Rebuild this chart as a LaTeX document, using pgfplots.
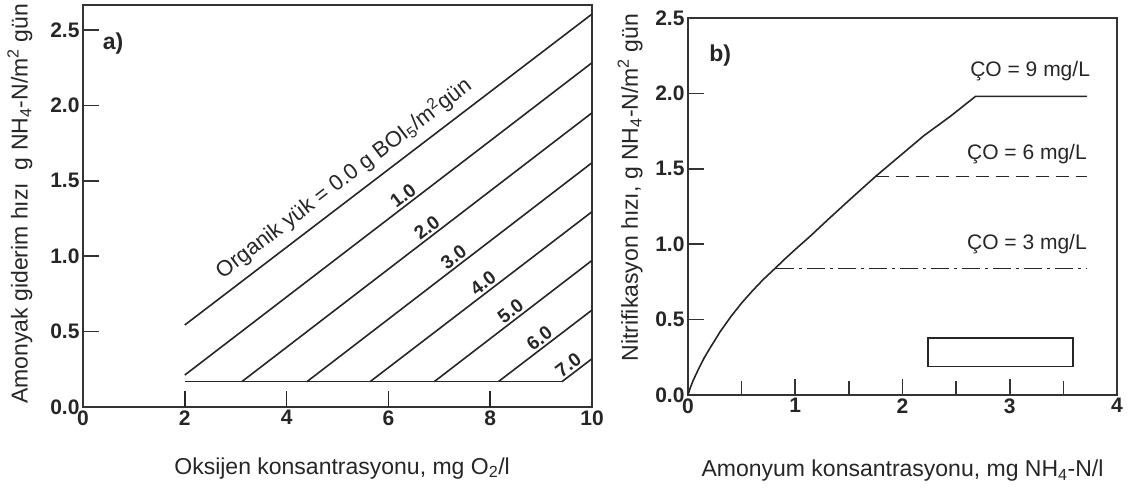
\documentclass[border=0pt]{standalone}
\usepackage{pgfplots}
\pgfplotsset{compat=1.18}
\usepackage{fontspec}
\setmainfont{Liberation Sans}
\tikzset{
  ln/.style={line width=1.6bp, black!85, solid},
  numlab/.style={sloped, above, inner sep=2bp, font=\bfseries\fontsize{19bp}{22bp}\selectfont, black!85},
}
\begin{document}
\begin{tikzpicture}
\path[use as bounding box] (0bp,0bp) rectangle (1136bp,490bp);
\pgfplotsset{
  myax/.style={
    scale only axis,
    anchor=south west,
    axis line style={line width=1.8bp, black!80},
    tick style={line width=1.6bp, black!80},
    tick align=inside,
    xtick pos=bottom, ytick pos=left,
    major tick length=16bp,
    minor tick length=14bp,
    tick label style={font=\bfseries\fontsize{21bp}{24bp}\selectfont, black!85},
    label style={font=\fontsize{23bp}{27bp}\selectfont, black!85},
    /pgf/number format/assume math mode=true,
    clip=false,
  }
}
% ---------------- panel a ----------------
\begin{axis}[myax,
  at={(83bp,83bp)}, width=509bp, height=402bp,
  xmin=0, xmax=10, ymin=0, ymax=2.666,
  xtick={0,2,4,6,8,10},
  ytick={0,0.5,1,1.5,2,2.5},
  yticklabel style={/pgf/number format/.cd, fixed, fixed zerofill, precision=1},
  xlabel={Oksijen konsantrasyonu, mg O\textsubscript{2}/l},
  ylabel={Amonyak giderim hızı\ \ g NH\textsubscript{4}-N/m\textsuperscript{2} gün},
  xlabel style={at={(axis description cs:0.509,-0.152)}, anchor=center},
  ylabel style={at={(axis description cs:-0.124,0.505)}, anchor=center},
]
\addplot[ln, no markers] coordinates {(2,0.544) (10,2.606)}
  node[pos=0.42, sloped, above=8bp, inner sep=0bp, font=\fontsize{22bp}{26bp}\selectfont, black!85] {Organik yük = 0.0 g BOI\textsubscript{5}/m\textsuperscript{2}gün};
\addplot[ln, no markers] coordinates {(2,0.212) (10,2.283)} node[pos=0.55, numlab] {1.0};
\addplot[ln, no markers] coordinates {(3.12,0.168) (10,1.951)} node[pos=0.545, numlab] {2.0};
\addplot[ln, no markers] coordinates {(4.40,0.168) (10,1.62)} node[pos=0.535, numlab] {3.0};
\addplot[ln, no markers] coordinates {(5.64,0.168) (10,1.295)} node[pos=0.535, numlab] {4.0};
\addplot[ln, no markers] coordinates {(6.90,0.168) (10,0.972)} node[pos=0.52, numlab] {5.0};
\addplot[ln, no markers] coordinates {(8.16,0.168) (10,0.643)} node[pos=0.5, numlab] {6.0};
\addplot[ln, no markers] coordinates {(9.41,0.168) (10,0.32)} node[pos=0.4, numlab] {7.0};
\addplot[ln, no markers] coordinates {(2,0.168) (9.41,0.168)};
% x tick marks of panel a
\addplot[ln, no markers] coordinates {(2,0) (2,0.105)};
\addplot[ln, no markers] coordinates {(4,0) (4,0.105)};
\addplot[ln, no markers] coordinates {(6,0) (6,0.105)};
\addplot[ln, no markers] coordinates {(8,0) (8,0.105)};
\node[font=\bfseries\fontsize{23bp}{27bp}\selectfont, black!85] at (axis cs:0.59,2.41) {a)};
\end{axis}
% ---------------- panel b ----------------
\begin{axis}[myax,
  at={(688bp,95bp)}, width=429bp, height=377bp,
  xmin=0, xmax=4, ymin=0, ymax=2.5,
  xtick={0,1,2,3,4},
  minor x tick num=1,
  ytick={0,0.5,1,1.5,2,2.5},
  yticklabel style={/pgf/number format/.cd, fixed, fixed zerofill, precision=1},
  xlabel={Amonyum konsantrasyonu, mg NH\textsubscript{4}-N/l},
  ylabel={Nitrifikasyon hızı, g NH\textsubscript{4}-N/m\textsuperscript{2} gün},
  xlabel style={at={(axis description cs:0.5,-0.2)}, anchor=center},
  ylabel style={at={(axis description cs:-0.135,0.55), font=\fontsize{24bp}{28bp}\selectfont}, anchor=center},
]
\addplot[ln, no markers] coordinates {
  (0,0) (0.02,0.045) (0.05,0.1) (0.1,0.175) (0.15,0.245) (0.2,0.305) (0.3,0.42)
  (0.4,0.52) (0.5,0.61) (0.6,0.69) (0.7,0.765) (0.82,0.845) (0.9,0.9)
  (1.0,0.965) (1.15,1.06) (1.3,1.16) (1.5,1.29) (1.75,1.45) (2.0,1.6)
  (2.2,1.72) (2.45,1.85) (2.68,1.98) (3.72,1.98)};
\addplot[ln, no markers, dash pattern=on 13bp off 7bp] coordinates {(1.75,1.45) (3.72,1.45)};
\addplot[ln, no markers, dash pattern=on 18bp off 5bp on 3bp off 5bp] coordinates {(0.82,0.84) (3.72,0.84)};
\addplot[ln, no markers] coordinates {(2.24,0.188) (3.59,0.188) (3.59,0.376) (2.24,0.376) (2.24,0.188)};
\node[font=\fontsize{21bp}{24bp}\selectfont, black!85] at (axis cs:3.19,2.15) {ÇO = 9 mg/L};
\node[font=\fontsize{21bp}{24bp}\selectfont, black!85] at (axis cs:3.16,1.6) {ÇO = 6 mg/L};
\node[font=\fontsize{21bp}{24bp}\selectfont, black!85] at (axis cs:3.16,1.0) {ÇO = 3 mg/L};
\node[font=\bfseries\fontsize{23bp}{27bp}\selectfont, black!85] at (axis cs:0.3,2.25) {b)};
\end{axis}
\end{tikzpicture}
\end{document}
